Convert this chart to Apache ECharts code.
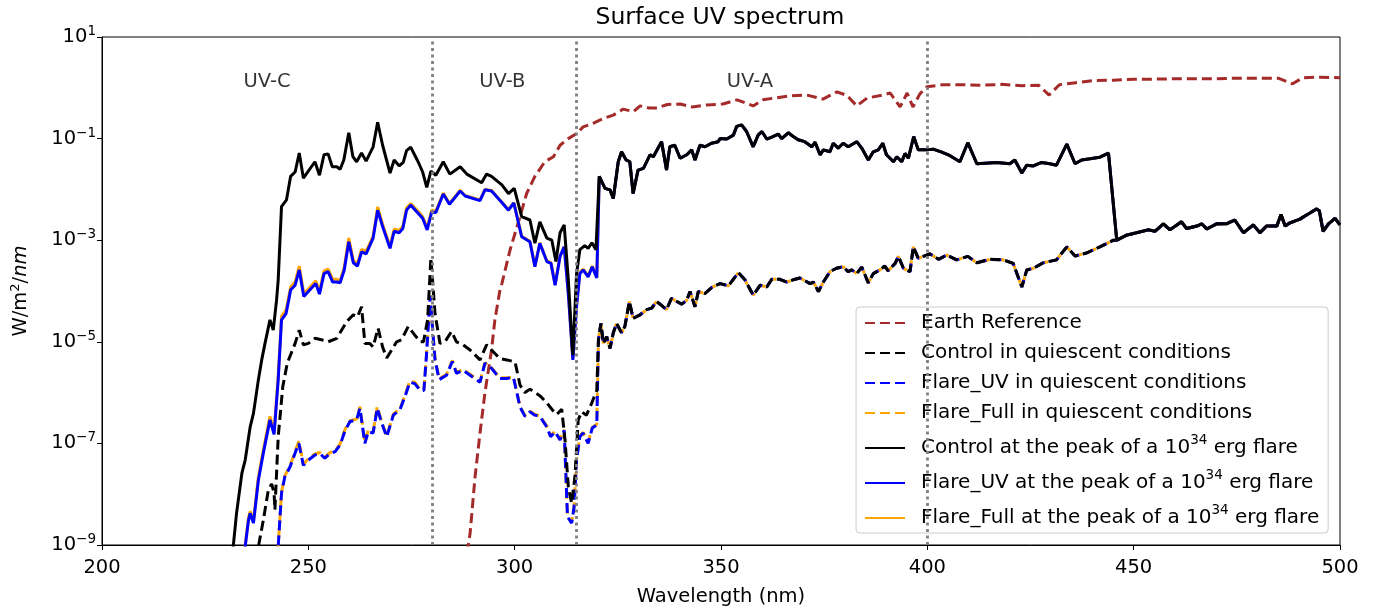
<!DOCTYPE html>
<html>
<head>
<meta charset="utf-8">
<script src="https://cdn.jsdelivr.net/npm/echarts@6/dist/echarts.min.js"></script>
<style>
html,body{margin:0;padding:0;background:#fff;}
#chart{width:1381px;height:614px;}
</style>
</head>
<body>
<div id="chart"></div>
<script>
// ---------------- DATA (wavelength in nm, irradiance in W/m^2/nm) ----------------
const earthWl = [288.5,289.2,290.4,291.6,292.8,294.4,295.2,296.4,296.9,298.9,301.3,302.9,304.9,307.3,309.4,311.0,313.0,315.0,316.6,319.0,321.5,323.9,326.3,328.8,330.4,332.5,334.5,337.0,340.1,343.0,346.6,350.5,353.9,357.8,360.2,363.0,366.7,370.8,374.7,378.1,380.5,382.9,385.4,389.3,391.0,393.4,395.1,396.5,398.2,399.9,403.8,408.6,413,418,423,427,429.5,432,436,440,445,450,455,460,465,470,475,480,485,488.5,491,495,500];
const earthVal = [7e-10,1.7e-9,2.2e-8,1.6e-7,1.0e-6,6.9e-6,2.7e-5,1.0e-4,1.4e-4,6.5e-4,2.9e-3,8.3e-3,1.8e-2,3.5e-2,4.4e-2,7.4e-2,0.10,0.126,0.17,0.20,0.25,0.29,0.38,0.34,0.44,0.40,0.40,0.47,0.48,0.42,0.46,0.48,0.58,0.44,0.58,0.63,0.69,0.72,0.60,0.83,0.71,0.44,0.63,0.72,0.79,0.42,0.79,0.42,0.76,1.05,1.15,1.15,1.12,1.17,1.10,1.12,0.72,1.15,1.26,1.38,1.41,1.48,1.48,1.51,1.51,1.51,1.55,1.55,1.55,1.2,1.58,1.62,1.58];

// Quiescent, short-wave part (below ~320 nm)
const ctrlQuietWl = [237.5,237.9,239.1,240.3,241.1,241.7,241.9,242.7,243.8,244.9,246.8,247.8,248.8,250.0,251.6,253.2,254.8,256.9,259.3,260.9,261.9,262.9,263.7,264.9,265.7,266.9,268.0,269.0,270.2,271.4,272.6,274.2,275.8,277.1,277.9,278.9,279.7,280.7,281.9,283.1,284.7,285.9,287.5,289.2,291.6,293.2,294.4,296.4,298.1,300.1,301.3,302.5,303.7,304.9,306.1,307.8,309.0,310.2,311.4,312.2,313.0,313.8,314.6,315.4,316.2,317.4,318.7,319.9];
const ctrlQuietVal = [5e-10,9.3e-10,3.1e-9,1.2e-8,1.6e-8,1.05e-8,4.9e-9,1.35e-7,1.3e-6,3.8e-6,9.3e-6,1.7e-5,8.7e-6,9.3e-6,1.17e-5,1.1e-5,1.0e-5,1.17e-5,2.5e-5,3.4e-5,3.1e-5,4.9e-5,9.3e-6,9.3e-6,7.9e-6,1.86e-5,7.9e-6,4.8e-6,6.9e-6,1.0e-5,1.1e-5,2.0e-5,1.35e-5,1.0e-5,1.0e-5,2.7e-5,4.5e-4,3.6e-5,9.3e-6,1.0e-5,1.6e-5,1.0e-5,8.7e-6,6.9e-6,4.4e-6,8.7e-6,6.9e-6,4.7e-6,4.4e-6,4.0e-6,1.4e-6,1.0e-6,1.17e-6,1.0e-6,8.7e-7,6.3e-7,4.7e-7,3.7e-7,4.7e-7,1.17e-7,1.4e-8,6.6e-9,2.2e-8,2.9e-7,4.2e-7,3.6e-7,6.3e-7,1.1e-6];

const uvQuietWl = [242.5,242.7,243.5,244.3,245.6,246.8,247.7,248.8,250.0,251.6,252.8,254.0,255.2,256.5,257.7,258.9,260.1,261.7,262.5,263.7,264.5,265.7,266.7,267.8,269.0,270.6,272.2,273.4,274.6,275.8,277.1,278.0,278.6,279.5,280.7,281.7,283.5,284.9,285.9,287.5,289.2,291.6,292.8,294.4,296.4,298.1,299.7,301.3,302.5,303.7,304.9,306.1,307.8,308.7,309.8,311.0,312.0,312.8,313.8,314.4,315.0,315.8,316.6,317.8,318.8,319.9];
const uvQuietVal = [5e-10,9.3e-10,1.05e-8,2.2e-8,3.5e-8,6.5e-8,1.0e-7,3.7e-8,4.7e-8,5.9e-8,6.3e-8,5.1e-8,6.3e-8,6.9e-8,9.3e-8,1.8e-7,2.7e-7,2.9e-7,4.9e-7,1.0e-7,1.7e-7,1.6e-7,4.9e-7,2.5e-7,1.35e-7,3.6e-7,4.6e-7,8.3e-7,1.6e-6,1.5e-6,1.1e-6,1.1e-6,5.0e-6,7.9e-5,4.4e-6,1.8e-6,2.2e-6,4.1e-6,2.4e-6,2.75e-6,2.2e-6,1.6e-6,3.8e-6,3.0e-6,1.9e-6,1.9e-6,2.0e-6,5.2e-7,3.4e-7,4.2e-7,3.6e-7,3.4e-7,2.1e-7,1.35e-7,1.7e-7,1.17e-7,1.8e-7,3.6e-9,2.7e-9,5.6e-9,4.7e-8,1.35e-7,1.6e-7,1.0e-7,2.0e-7,2.3e-7];
const fullQuietVal = [5e-10,9.5e-10,1.1e-8,2.3e-8,3.7e-8,7.0e-8,1.1e-7,3.9e-8,5.0e-8,6.2e-8,6.6e-8,5.3e-8,6.6e-8,7.2e-8,9.8e-8,1.9e-7,2.8e-7,3.0e-7,5.3e-7,1.05e-7,1.8e-7,1.7e-7,5.3e-7,2.6e-7,1.4e-7,3.8e-7,4.8e-7,8.7e-7,1.7e-6,1.6e-6,1.15e-6,1.15e-6,5.2e-6,8.2e-5,4.6e-6,1.9e-6,2.3e-6,4.3e-6,2.5e-6,2.85e-6,2.3e-6,1.65e-6,3.9e-6,3.1e-6,1.95e-6,1.95e-6,2.05e-6,5.4e-7,3.5e-7,4.3e-7,3.7e-7,3.5e-7,2.2e-7,1.4e-7,1.75e-7,1.2e-7,1.85e-7,3.7e-9,2.8e-9,5.8e-9,4.9e-8,1.4e-7,1.65e-7,1.05e-7,2.05e-7,2.4e-7];

// Quiescent, shared part (all three quiescent runs coincide above 320 nm)
const quietMidWl = [320.3,320.9,321.5,322.3,323.1,323.9,324.7,325.9,326.7,327.8,328.7,330.4,332.0,333.2,334.4,335.6,336.8,338.0,339.3,340.5,341.7,342.5,343.7,344.5,346.1,347.7,349.8,351.8,354.2,355.8,357.8,359.5,361.1,362.3,364.3,365.9,367.5,369.1,371.6,372.4,373.6,374.8,376.4,378.0,379.6,380.8,381.7,382.9,384.1,385.7,386.9,388.5,389.7,390.5,392.2,393.0,394.2,395.8,396.6,397.8,399.0,400.6,402.7,404.7,407.1,409.8,412.0,415.2,418.4,420.8,422.9,424.1,425.7,428.1,431.3,433.8,435.8,438.6,441.8,445.1];
const quietMidVal = [1.1e-5,2.3e-5,9.3e-6,1.26e-5,7.4e-6,1.5e-5,2.3e-5,1.5e-5,2.0e-5,6.2e-5,2.9e-5,3.4e-5,4.3e-5,4.6e-5,6.2e-5,5.2e-5,4.3e-5,7.2e-5,6.2e-5,5.5e-5,6.6e-5,9.8e-5,4.9e-5,9.8e-5,8.9e-5,1.17e-4,1.4e-4,1.26e-4,2.3e-4,1.66e-4,8.3e-5,1.3e-4,1.2e-4,1.7e-4,1.7e-4,1.5e-4,1.66e-4,1.8e-4,1.4e-4,1.5e-4,9.8e-5,1.5e-4,2.4e-4,2.8e-4,3.0e-4,2.4e-4,2.6e-4,2.2e-4,2.95e-4,1.45e-4,2.2e-4,2.6e-4,3.1e-4,2.5e-4,3.5e-4,4.8e-4,2.8e-4,2.4e-4,7.4e-4,4.4e-4,4.8e-4,5.4e-4,4.2e-4,5.1e-4,4.1e-4,4.8e-4,3.6e-4,4.2e-4,4.1e-4,3.5e-4,1.2e-4,2.6e-4,2.8e-4,3.6e-4,4.1e-4,7.4e-4,4.9e-4,5.6e-4,7.4e-4,1.0e-3];

// Flare peak, short-wave part
const ctrlFlareWl = [231.5,231.8,232.6,233.9,234.7,235.9,236.7,237.9,238.7,239.5,240.7,241.5,242.3,242.7,243.5,244.7,245.7,246.8,247.8,248.8,251.6,252.7,253.8,254.8,255.8,256.9,257.7,258.6,259.8,260.8,261.7,262.9,264.0,265.7,266.8,268.0,269.8,270.8,272.0,273.0,273.8,274.8,276.6,277.7,278.7,279.7,280.9,282.7,284.3,286.8,288.4,292.0,293.2,294.4,296.9,298.5,299.9,301.7,303.7,304.9,306.1,307.8,309.0,310.0,311.0,312.0,313.0,314.1,315.0,315.8,317.0,317.8,318.7,319.7];
const ctrlFlareVal = [5e-10,9.3e-10,4.2e-9,2.6e-8,4.7e-8,2.1e-7,3.9e-7,1.8e-6,4.4e-6,9.3e-6,2.7e-5,1.7e-5,6.6e-5,1.66e-4,4.6e-3,6.2e-3,1.8e-2,2.2e-2,5.2e-2,1.66e-2,3.5e-2,1.9e-2,4.8e-2,5.0e-2,2.8e-2,2.8e-2,2.5e-2,3.8e-2,0.13,4.4e-2,3.5e-2,5.2e-2,3.6e-2,6.9e-2,0.21,7.4e-2,2.1e-2,3.8e-2,2.9e-2,3.4e-2,5.8e-2,6.8e-2,3.5e-2,2.2e-2,1.1e-2,2.3e-2,1.9e-2,3.5e-2,2.0e-2,2.8e-2,2.0e-2,1.35e-2,2.0e-2,1.8e-2,1.23e-2,8.3e-3,1.05e-2,2.9e-3,2.5e-3,8.7e-4,2.3e-3,1.1e-3,1.0e-3,3.8e-4,1.4e-3,2.0e-3,1.66e-4,5.5e-6,2.2e-4,6.5e-4,7.8e-4,6.9e-4,8.9e-4,6.5e-4];

const uvFlareWl = [234.5,234.7,235.5,235.9,236.7,237.9,239.1,240.7,241.7,242.7,243.5,244.6,245.3,245.7,246.8,247.8,248.9,250.0,251.8,252.7,253.8,254.8,255.9,256.9,257.7,258.7,259.8,260.9,261.9,262.9,264.0,265.7,266.8,268.0,269.8,270.8,272.0,272.9,273.8,274.8,276.6,277.7,278.8,279.9,280.9,282.7,284.2,286.8,288.0,291.6,292.8,294.4,296.9,298.5,299.8,301.7,303.7,304.9,306.1,307.8,308.8,309.8,311.0,312.0,313.0,314.1,315.0,315.8,316.6,317.8,318.8,319.9];
const uvFlareVal = [6e-10,9.3e-10,3.1e-9,4.2e-9,2.7e-9,1.9e-8,6.5e-8,2.9e-7,1.5e-7,1.8e-6,2.7e-5,3.6e-5,7e-5,1.05e-4,1.3e-4,2.6e-4,7.8e-5,9.8e-5,1.4e-4,8.7e-5,2.2e-4,2.4e-4,1.5e-4,1.5e-4,1.45e-4,2.6e-4,9.3e-4,3.6e-4,3.1e-4,5.9e-4,5.4e-4,1.1e-3,3.9e-3,1.86e-3,6.9e-4,1.5e-3,1.4e-3,1.7e-3,3.9e-3,4.9e-3,3.4e-3,2.7e-3,1.6e-3,3.6e-3,3.5e-3,8.1e-3,5.1e-3,9.3e-3,7.4e-3,6.0e-3,9.8e-3,9.3e-3,5.5e-3,3.9e-3,5.4e-3,1.17e-3,9.3e-4,3.0e-4,8.7e-4,3.8e-4,3.5e-4,1.3e-4,4.8e-4,7.4e-4,8.9e-5,4.4e-6,5e-5,2.2e-4,2.6e-4,1.9e-4,3.0e-4,1.8e-4];
const fullFlareVal = [6.5e-10,1.0e-9,3.4e-9,4.6e-9,3.0e-9,2.2e-8,7.5e-8,3.4e-7,1.7e-7,2.1e-6,3.2e-5,4.2e-5,8e-5,1.2e-4,1.5e-4,3.1e-4,8.8e-5,1.1e-4,1.6e-4,9.8e-5,2.5e-4,2.7e-4,1.7e-4,1.7e-4,1.6e-4,2.9e-4,1.1e-3,4.0e-4,3.4e-4,6.6e-4,6.0e-4,1.2e-3,4.5e-3,2.05e-3,7.6e-4,1.65e-3,1.55e-3,1.85e-3,4.3e-3,5.3e-3,3.7e-3,2.9e-3,1.75e-3,3.9e-3,3.7e-3,8.5e-3,5.3e-3,9.6e-3,7.6e-3,6.2e-3,1.0e-2,9.5e-3,5.6e-3,4.0e-3,5.5e-3,1.2e-3,9.5e-4,3.1e-4,8.9e-4,3.9e-4,3.6e-4,1.35e-4,4.9e-4,7.5e-4,9.2e-5,4.6e-6,5.2e-5,2.3e-4,2.7e-4,2.0e-4,3.1e-4,1.9e-4];

// Flare peak, shared part (all three flare runs coincide above 320 nm)
const flareMidWl = [320.5,321.9,323.1,323.9,325.1,325.9,327.0,327.9,328.7,329.9,331.2,332.8,333.6,335.6,336.8,337.6,338.8,340.1,341.7,342.9,343.7,344.9,346.1,347.7,349.3,349.8,351.4,353.0,353.8,355.0,356.2,357.8,359.0,359.9,361.1,362.3,363.9,364.7,366.3,367.5,368.7,370.3,372.0,372.8,374.0,374.8,376.4,377.2,378.4,379.6,380.8,382.9,384.1,385.7,386.9,388.1,389.2,390.1,391.8,392.6,393.8,394.6,395.4,396.7,397.8,399.8,401.4,403.5,405.5,407.9,409.8,412.0,416.8,420.0,421.2,422.9,424.1,425.7,427.7,429.7,431.3,433.8,435.8,437.4,439.4,441.8,443.9];
const flareMidVal = [1.8e-2,1.05e-2,9.8e-3,6.6e-3,3.5e-2,5.5e-2,3.8e-2,3.5e-2,8.3e-3,2.4e-2,2.6e-2,4.8e-2,4.4e-2,8.7e-2,2.4e-2,6.9e-2,7.4e-2,4.1e-2,4.8e-2,6.0e-2,3.8e-2,7.4e-2,6.9e-2,8.1e-2,8.7e-2,0.10,9.8e-2,0.117,0.174,0.186,0.138,6.9e-2,0.117,0.138,9.8e-2,0.107,0.123,0.10,0.13,0.11,9.5e-2,8.7e-2,6.9e-2,8.5e-2,4.8e-2,6.0e-2,5.5e-2,8.1e-2,6.5e-2,8.1e-2,6.9e-2,8.7e-2,6.5e-2,3.8e-2,5.5e-2,6.0e-2,8.1e-2,4.8e-2,3.5e-2,4.4e-2,3.5e-2,5.1e-2,4.1e-2,0.11,6.0e-2,6.0e-2,6.2e-2,5.4e-2,4.6e-2,3.5e-2,8.3e-2,3.2e-2,3.4e-2,3.2e-2,3.8e-2,2.1e-2,3.0e-2,2.9e-2,3.4e-2,3.2e-2,3.0e-2,7.8e-2,3.2e-2,3.8e-2,4.0e-2,4.3e-2,5.2e-2];

// Long-wave tail shared by all six model runs
const tailWl = [445.9,448.3,450.7,453.5,455.2,457.2,458.8,461.6,462.8,465.3,466.5,467.7,470.1,472.5,474.5,476.6,479.0,480.6,482.2,484.7,485.7,486.7,487.9,490.3,491.5,494.3,495.0,495.9,497.2,498.8,500.0];
const tailVal = [1.0e-3,1.26e-3,1.4e-3,1.6e-3,1.5e-3,2.1e-3,1.6e-3,2.3e-3,1.7e-3,1.9e-3,2.1e-3,1.66e-3,2.1e-3,2.1e-3,2.5e-3,1.4e-3,2.0e-3,1.4e-3,1.9e-3,1.9e-3,3.2e-3,1.9e-3,2.2e-3,2.6e-3,3.0e-3,4.1e-3,3.8e-3,1.5e-3,2.1e-3,2.7e-3,2.0e-3];

// Band boundaries and labels
const bandEdges = [280, 315, 400];
const bandLabelWl = [240, 297, 357];
const bandLabelVal = [1.3, 1.3, 1.3];
const bandLabelText = ['UV-C', 'UV-B', 'UV-A'];

const xTicks = [200, 250, 300, 350, 400, 450, 500];

const seriesNames = [
  'Earth Reference',
  'Control in quiescent conditions',
  'Flare_UV in quiescent conditions',
  'Flare_Full in quiescent conditions',
  'Control at the peak of a 10^34 erg flare',
  'Flare_UV at the peak of a 10^34 erg flare',
  'Flare_Full at the peak of a 10^34 erg flare'
];

// ---------------- BUILD ----------------
function pairs(wl, val) { return wl.map((w, i) => [w, val[i]]); }
const FONT = 'DejaVu Sans';
const FS = 19.5;
const DASH = [10, 5];
const LW = 3;

function lineSeries(name, data, color, dashed, dashOffset) {
  return {
    name: name, type: 'line', data: data,
    showSymbol: false, symbol: 'none', clip: true, silent: true,
    lineStyle: { color: color, width: LW, type: dashed ? DASH : 'solid', dashOffset: dashOffset || 0 },
    itemStyle: { color: color }
  };
}

const earthSeries = lineSeries(seriesNames[0], pairs(earthWl, earthVal), '#a52a2a', true);
earthSeries.markLine = {
  silent: true, symbol: ['none', 'none'], label: { show: false },
  lineStyle: { color: '#808080', type: [3, 3.5], width: 2.8 },
  data: bandEdges.map(v => ({ xAxis: v }))
};

const series = [
  earthSeries,
  lineSeries(seriesNames[3], pairs(uvQuietWl.concat(quietMidWl, tailWl), fullQuietVal.concat(quietMidVal, tailVal)), '#ffa500', true, 7.5),
  lineSeries(seriesNames[2], pairs(uvQuietWl.concat(quietMidWl, tailWl), uvQuietVal.concat(quietMidVal, tailVal)), '#0000ff', true, 0),
  lineSeries(seriesNames[1], pairs(ctrlQuietWl.concat(quietMidWl, tailWl), ctrlQuietVal.concat(quietMidVal, tailVal)), '#000000', true, 0),
  lineSeries(seriesNames[6], pairs(uvFlareWl.concat(flareMidWl, tailWl), fullFlareVal.concat(flareMidVal, tailVal)), '#ffa500', false),
  lineSeries(seriesNames[5], pairs(uvFlareWl.concat(flareMidWl, tailWl), uvFlareVal.concat(flareMidVal, tailVal)), '#0000ff', false),
  lineSeries(seriesNames[4], pairs(ctrlFlareWl.concat(flareMidWl, tailWl), ctrlFlareVal.concat(flareMidVal, tailVal)), '#000000', false),
  {
    name: 'bands', type: 'scatter', symbolSize: 0, silent: true,
    data: bandLabelWl.map((w, i) => [w, bandLabelVal[i], bandLabelText[i]]),
    label: { show: true, position: 'inside', formatter: p => p.data[2], color: '#000', fontSize: FS, fontFamily: FONT }
  }
];

function supExp(v) {
  const e = Math.round(Math.log10(v));
  return '10{sup|' + (e < 0 ? '\u2212' + (-e) : String(e)) + '}';
}

const legendData = seriesNames.map(n => n === seriesNames[3]
  ? { name: n, lineStyle: { dashOffset: 0 } }
  : { name: n });

const chart = echarts.init(document.getElementById('chart'), null, { renderer: 'canvas' });
chart.setOption({
  animation: false,
  backgroundColor: '#ffffff',
  textStyle: { fontFamily: FONT },
  graphic: [{
    type: 'text', x: 720, y: 18, silent: true,
    style: { text: 'Surface UV spectrum', fill: '#000', font: '23.5px "DejaVu Sans"', textAlign: 'center', textVerticalAlign: 'middle' }
  }],
  grid: {
    left: 102, right: 41, top: 37, bottom: 69,
    show: true, borderColor: '#000', borderWidth: 1, backgroundColor: 'transparent'
  },
  xAxis: {
    type: 'value', min: xTicks[0], max: xTicks[xTicks.length - 1], interval: 50,
    name: 'Wavelength (nm)', nameLocation: 'middle', nameGap: 42,
    nameTextStyle: { fontSize: FS, color: '#000', fontFamily: FONT },
    axisLine: { show: true, lineStyle: { color: '#000', width: 1 } },
    axisTick: { show: true, inside: false, length: 5, lineStyle: { color: '#000' } },
    axisLabel: { fontSize: FS, color: '#000', margin: 13, fontFamily: FONT },
    splitLine: { show: false }
  },
  yAxis: {
    type: 'log', logBase: 10, min: 1e-9, max: 10, interval: 2,
    name: 'W/m{sup|2}/{it|nm}', nameLocation: 'middle', nameGap: 70, nameRotate: 90,
    nameTextStyle: {
      fontSize: FS, color: '#000', fontFamily: FONT,
      rich: {
        sup: { fontSize: 13, padding: [0, 0, 10, 0], color: '#000', fontFamily: FONT },
        it: { fontSize: FS, fontStyle: 'italic', color: '#000', fontFamily: FONT }
      }
    },
    axisLine: { show: true, lineStyle: { color: '#000', width: 1 } },
    axisTick: { show: true, inside: false, length: 5, lineStyle: { color: '#000' } },
    minorTick: { show: false },
    axisLabel: {
      color: '#000', fontSize: FS, margin: 6, fontFamily: FONT,
      formatter: supExp,
      rich: { sup: { fontSize: 13.5, padding: [0, 0, 11, 0], color: '#000', fontFamily: FONT } }
    },
    splitLine: { show: false }
  },
  legend: {
    data: legendData,
    orient: 'vertical', left: 856, top: 307,
    padding: [6, 9, 5, 8], itemGap: 10, itemWidth: 40, itemHeight: 14,
    backgroundColor: 'rgba(255,255,255,0.8)', borderColor: '#cccccc', borderWidth: 1, borderRadius: 4,
    selectedMode: false,
    itemStyle: { opacity: 0, borderWidth: 0 },
    textStyle: {
      fontSize: 20, color: '#000', fontFamily: FONT, padding: [0, 0, 0, 11],
      rich: { sup: { fontSize: 13.5, padding: [0, 0, 16, 0], color: '#000', fontFamily: FONT } }
    },
    formatter: n => n.replace('10^34', '10{sup|34}')
  },
  series: series
});
</script>
</body>
</html>
